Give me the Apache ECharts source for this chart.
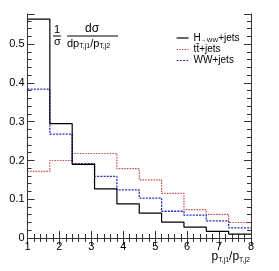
<!DOCTYPE html>
<html><head><meta charset="utf-8">
<script src="https://cdn.jsdelivr.net/npm/echarts@6/dist/echarts.min.js"></script>
<style>html,body{margin:0;padding:0;background:#fff}#c{width:279px;height:271px}</style>
</head><body><div id="c"></div>
<script>
const binEdges = [1, 1.7, 2.4, 3.1, 3.8, 4.5, 5.2, 5.9, 6.6, 7.3, 8];
const hwwValues = [0.565, 0.295, 0.190, 0.127, 0.088, 0.064, 0.041, 0.028, 0.017, 0.010];
const ttValues  = [0.172, 0.200, 0.218, 0.218, 0.179, 0.150, 0.115, 0.073, 0.061, 0.040];
const wwValues  = [0.384, 0.268, 0.192, 0.159, 0.124, 0.103, 0.069, 0.059, 0.044, 0.026];
const xTicks = [1, 2, 3, 4, 5, 6, 7, 8];
const yTicks = [0, 0.1, 0.2, 0.3, 0.4, 0.5];
const seriesNames = ['H→WW+jets', 'tt̄+jets', 'WW+jets'];

function hist(vals) {
  const d = vals.map((v, i) => [binEdges[i], v]);
  d.push([binEdges[binEdges.length - 1], vals[vals.length - 1]]);
  return d;
}
const F = 'Liberation Sans, Arial, sans-serif';
const axisCol = '#333';
const chart = echarts.init(document.getElementById('c'));
const baseX = {
  type: 'value', min: 1, max: 8, interval: 1,
  axisLine: {show: true, lineStyle: {color: axisCol, width: 1}},
  axisTick: {show: true, inside: true, length: 7, lineStyle: {color: axisCol}},
  minorTick: {show: true, splitNumber: 5, length: 4, lineStyle: {color: axisCol}},
  splitLine: {show: false}
};
const baseY = {
  type: 'value', min: 0, max: 0.578, interval: 0.1,
  axisLine: {show: true, lineStyle: {color: axisCol, width: 1}},
  axisTick: {show: true, inside: true, length: 7, lineStyle: {color: axisCol}},
  minorTick: {show: true, splitNumber: 5, length: 4, lineStyle: {color: axisCol}},
  splitLine: {show: false}
};
chart.setOption({
  animation: false,
  grid: {left: 27.5, right: 28, top: 14, bottom: 33},
  xAxis: [
    Object.assign({}, baseX, {position: 'bottom',
      axisLabel: {color: '#000', fontFamily: F, fontSize: 11, margin: 3,
        formatter: v => xTicks.includes(v) ? String(v) : ''}}),
    Object.assign({}, baseX, {position: 'top', axisLabel: {show: false}})
  ],
  yAxis: [
    Object.assign({}, baseY, {position: 'left',
      axisLabel: {color: '#000', fontFamily: F, fontSize: 11, margin: 3,
        formatter: v => { const t = yTicks.find(y => Math.abs(y - v) < 1e-6); return t === undefined ? '' : (t === 0 ? '0' : t.toFixed(1)); }}}),
    Object.assign({}, baseY, {position: 'right', axisLabel: {show: false}})
  ],
  legend: {
    left: 171, top: 28, orient: 'vertical', itemGap: 1, itemWidth: 12, itemHeight: 8,
    data: seriesNames,
    itemStyle: {opacity: 0},
    lineStyle: {width: 1.2},
    textStyle: {fontFamily: F, fontSize: 10, color: '#000',
      rich: {a: {fontFamily: F, fontSize: 10}, s: {fontFamily: F, fontSize: 6, verticalAlign: 'bottom', padding: [5,0,0,0]}}},
    formatter: n => n === 'H→WW+jets' ? '{a|H}{s|→WW}{a|+jets}' : n
  },
  series: [
    {name: seriesNames[0], type: 'line', step: 'end', symbol: 'none', data: hist(hwwValues),
      lineStyle: {color: '#000', width: 1.2}, itemStyle: {color: '#000'}, z: 3},
    {name: seriesNames[1], type: 'line', step: 'end', symbol: 'none', data: hist(ttValues),
      lineStyle: {color: '#c84848', width: 1.2, type: [1.5, 1.2]}, itemStyle: {color: '#c84848'}, z: 2},
    {name: seriesNames[2], type: 'line', step: 'end', symbol: 'none', data: hist(wwValues),
      lineStyle: {color: '#2828c0', width: 1.3, type: [2, 1.2]}, itemStyle: {color: '#2828c0'}, z: 2}
  ],
  graphic: [
    {type: 'text', left: 54, top: 24, style: {text: '1', font: '11px ' + F, fill: '#000'}},
    {type: 'line', shape: {x1: 53, y1: 36, x2: 61, y2: 36}, style: {stroke: '#000', lineWidth: 1}},
    {type: 'text', left: 54, top: 36, style: {text: 'σ', font: '11px ' + F, fill: '#000'}},
    {type: 'text', left: 85, top: 23, style: {text: 'dσ', font: '12px ' + F, fill: '#000'}},
    {type: 'line', shape: {x1: 67, y1: 36, x2: 118, y2: 36}, style: {stroke: '#000', lineWidth: 1}},
    {type: 'text', left: 67, top: 38, style: {
      text: '{a|dp}{s|T,j1}{a|/p}{s|T,j2}',
      rich: {a: {font: '11px ' + F, fill: '#000'}, s: {font: '7px ' + F, fill: '#000', verticalAlign: 'bottom', padding: [6,0,0,0]}}}},
    {type: 'text', right: 29, top: 251, style: {
      text: '{a|p}{s|T,j1}{a|/p}{s|T,j2}',
      rich: {a: {font: '12px ' + F, fill: '#000'}, s: {font: '7px ' + F, fill: '#000', verticalAlign: 'bottom', padding: [6,0,0,0]}}}}
  ]
});
</script></body></html>
